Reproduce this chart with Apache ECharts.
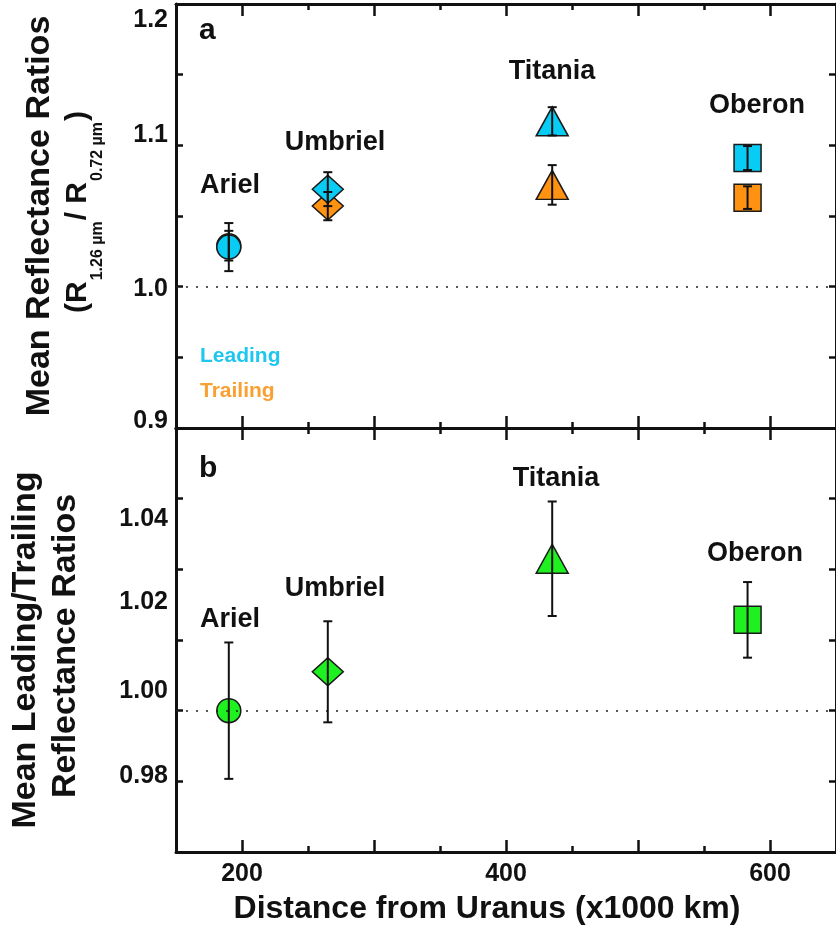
<!DOCTYPE html>
<html>
<head>
<meta charset="utf-8">
<script src="https://cdn.jsdelivr.net/npm/echarts@6/dist/echarts.min.js"></script>
<style>
html,body{margin:0;padding:0;background:#fff;}
#chart{width:836px;height:932px;}
</style>
</head>
<body>
<div id="chart"></div>
<script>
// ---------------- data ----------------
const moons = ['Ariel', 'Umbriel', 'Titania', 'Oberon'];
const distance = [190, 265, 435, 583];            // x1000 km
const leadingRatio = [1.028, 1.069, 1.117, 1.091];
const leadingErr = [0.017, 0.012, 0.010, 0.0085];
const trailingRatio = [1.029, 1.057, 1.072, 1.063];
const trailingErr = [0.0105, 0.010, 0.014, 0.008];
const ltRatio = [1.000, 1.011, 1.043, 1.0257];
const ltErr = [0.0193, 0.0143, 0.0162, 0.0107];

const xMajorTicks = [200, 300, 400, 500, 600];
const xMinorTicks = [250, 350, 450, 550];
const xTickLabels = [200, 400, 600];
const yTopTickValues = [0.9, 1.0, 1.1, 1.2];
const yTopTickLabels = ['0.9', '1.0', '1.1', '1.2'];
const yBotTickValues = [0.98, 1.00, 1.02, 1.04];
const yBotTickLabels = ['0.98', '1.00', '1.02', '1.04'];

// ---------------- styles ----------------
const FONT = "'Liberation Sans', Arial, Helvetica, sans-serif";
const INK = '#111';
const CYAN = '#08CCF4';
const ORANGE = '#FF9210';
const GREEN = '#1FF01F';
const symbols = ['circle', 'diamond', 'triangle', 'rect'];
const symbolSizes = [[24, 24], [31, 28], [32, 29], [27, 27]];
// label vertical nudges (padding) to mimic reference placement
const topLabelPad = [[0,0,14,0], [4,0,0,0], [0,0,21,0], [33,0,0,0]];
const botLabelPad = [[0,0,10,0], [0,0,40,0], [0,0,76,0], [0,0,100,0]];

function pts(vals, color) {
  return distance.map((d, i) => ({
    value: [d, vals[i]],
    symbol: symbols[i],
    symbolSize: symbolSizes[i],
    itemStyle: { color: color, opacity: 1, borderColor: '#1a1a1a', borderWidth: 1.5 }
  }));
}
function errData(vals, errs) {
  return distance.map((d, i) => [d, vals[i] - errs[i], vals[i] + errs[i]]);
}
function errRender(params, api) {
  const x = api.value(0), lo = api.value(1), hi = api.value(2);
  const a = api.coord([x, hi]), b = api.coord([x, lo]);
  const cw = 4.5;
  const st = { stroke: INK, lineWidth: 2 };
  return {
    type: 'group',
    children: [
      { type: 'line', shape: { x1: a[0], y1: a[1], x2: b[0], y2: b[1] }, style: st },
      { type: 'line', shape: { x1: a[0] - cw, y1: a[1], x2: a[0] + cw, y2: a[1] }, style: st },
      { type: 'line', shape: { x1: b[0] - cw, y1: b[1], x2: b[0] + cw, y2: b[1] }, style: st }
    ]
  };
}
const dotted = {
  silent: true, symbol: 'none', label: { show: false },
  lineStyle: { type: [2, 8], color: '#222', width: 1.5 },
  emphasis: { disabled: true },
  data: [{ yAxis: 1.0 }]
};

function xAxisSet(gridIndex, withLabels) {
  const base = { type: 'value', gridIndex: gridIndex, min: 150, max: 650, splitLine: { show: false } };
  const line = { show: true, lineStyle: { color: INK, width: 3 } };
  return [
    Object.assign({}, base, {
      position: 'bottom', axisLine: line,
      axisTick: { show: true, inside: true, length: 12, lineStyle: { color: INK, width: 2.5 }, customValues: xMajorTicks },
      axisLabel: withLabels ? {
        show: true, customValues: xTickLabels, margin: 10,
        fontFamily: FONT, fontSize: 25, fontWeight: 'bold', color: INK
      } : { show: false }
    }),
    Object.assign({}, base, {
      position: 'bottom', axisLine: { show: false },
      axisTick: { show: true, inside: true, length: 6, lineStyle: { color: INK, width: 2.5 }, customValues: xMinorTicks },
      axisLabel: { show: false }
    }),
    Object.assign({}, base, {
      position: 'top', axisLine: line,
      axisTick: { show: true, inside: true, length: 12, lineStyle: { color: INK, width: 2.5 }, customValues: xMajorTicks },
      axisLabel: { show: false }
    }),
    Object.assign({}, base, {
      position: 'top', axisLine: { show: false },
      axisTick: { show: true, inside: true, length: 6, lineStyle: { color: INK, width: 2.5 }, customValues: xMinorTicks },
      axisLabel: { show: false }
    })
  ];
}

function yAxisPair(gridIndex, min, max, interval, tickVals, tickLabels, pads) {
  const rich = {};
  pads.forEach((p, i) => {
    rich['o' + i] = { padding: p, fontFamily: FONT, fontSize: 25, fontWeight: 'bold', color: INK };
  });
  const base = { type: 'value', gridIndex: gridIndex, min: min, max: max, interval: interval, splitLine: { show: false } };
  return [
    Object.assign({}, base, {
      position: 'left',
      axisLine: { show: true, lineStyle: { color: INK, width: 3 } },
      axisTick: { show: true, inside: true, length: 7, lineStyle: { color: INK, width: 2.5 } },
      axisLabel: {
        show: true, customValues: tickVals, margin: 8,
        formatter: function (v) {
          let idx = -1;
          tickVals.forEach((t, i) => { if (Math.abs(t - v) < 1e-6) idx = i; });
          if (idx < 0) return '';
          return '{o' + idx + '|' + tickLabels[idx] + '}';
        },
        rich: rich
      }
    }),
    Object.assign({}, base, {
      position: 'right',
      axisLine: { show: true, lineStyle: { color: INK, width: 3 } },
      axisTick: { show: true, inside: true, length: 7, lineStyle: { color: INK, width: 2.5 } },
      axisLabel: { show: false }
    })
  ];
}

function txt(x, y, text, size, color, align) {
  return {
    type: 'text', x: x, y: y, silent: true,
    style: { text: text, fontFamily: FONT, fontSize: size, fontWeight: 'bold', fill: color || INK,
             align: align || 'center', verticalAlign: 'middle' }
  };
}
function vtxt(x, y, text, size) {
  return {
    type: 'text', x: x, y: y, rotation: Math.PI / 2, silent: true,
    style: { text: text, fontFamily: FONT, fontSize: size, fontWeight: 'bold', fill: INK,
             align: 'center', verticalAlign: 'middle' }
  };
}

const topLabelPos = [[230, 186], [335, 143], [552, 72], [757, 106]];
const botLabelPos = [[230, 620], [335, 589], [556, 479], [755, 554]];

const graphics = [
  txt(199, 31, 'a', 30, INK, 'left'),
  txt(199, 469, 'b', 30, INK, 'left'),
  txt(200, 356, 'Leading', 21, '#1EC6F0', 'left'),
  txt(200, 391, 'Trailing', 21, '#F9A032', 'left'),
  vtxt(40, 216, 'Mean Reflectance Ratios', 34),
  {
    type: 'text', x: 84, y: 212, rotation: Math.PI / 2, silent: true,
    style: {
      text: '{m|(R}{s|1.26 µm}{m|/ R}{s|0.72 µm}{m|)}',
      align: 'center', verticalAlign: 'middle', fill: INK,
      rich: {
        m: { fontFamily: FONT, fontSize: 30, fontWeight: 'bold', fill: INK, lineHeight: 30, verticalAlign: 'top' },
        s: { fontFamily: FONT, fontSize: 16, fontWeight: 'bold', fill: INK, padding: [27, 1, 0, 1], verticalAlign: 'top' }
      }
    }
  },
  vtxt(26, 650, 'Mean Leading/Trailing', 34),
  vtxt(66, 646, 'Reflectance Ratios', 34),
  txt(487, 909, 'Distance from Uranus (x1000 km)', 32)
];
moons.forEach((m, i) => {
  graphics.push(txt(topLabelPos[i][0], topLabelPos[i][1], m, 27));
  graphics.push(txt(botLabelPos[i][0], botLabelPos[i][1], m, 27));
});

const chart = echarts.init(document.getElementById('chart'), null, { renderer: 'canvas' });
chart.setOption({
  animation: false,
  backgroundColor: '#fff',
  grid: [
    { left: 176, top: 4, width: 666, height: 424 },
    { left: 176, top: 428, width: 666, height: 424 }
  ],
  xAxis: xAxisSet(0, false).concat(xAxisSet(1, true)),
  yAxis: yAxisPair(0, 0.9, 1.2, 0.05, yTopTickValues, yTopTickLabels, topLabelPad)
    .concat(yAxisPair(1, 0.96, 1.08, 0.02, yBotTickValues, yBotTickLabels, botLabelPad)),
  series: [
    { name: 'Trailing', type: 'scatter', xAxisIndex: 0, yAxisIndex: 0, z: 2,
      data: pts(trailingRatio, ORANGE), markLine: dotted, emphasis: { disabled: true } },
    { name: 'Leading', type: 'scatter', xAxisIndex: 0, yAxisIndex: 0, z: 3,
      data: pts(leadingRatio, CYAN), emphasis: { disabled: true } },
    { name: 'Trailing err', type: 'custom', xAxisIndex: 0, yAxisIndex: 0, z: 5,
      renderItem: errRender, encode: { x: 0, y: [1, 2] }, data: errData(trailingRatio, trailingErr) },
    { name: 'Leading err', type: 'custom', xAxisIndex: 0, yAxisIndex: 0, z: 5,
      renderItem: errRender, encode: { x: 0, y: [1, 2] }, data: errData(leadingRatio, leadingErr) },
    { name: 'Leading/Trailing', type: 'scatter', xAxisIndex: 4, yAxisIndex: 2, z: 3,
      data: pts(ltRatio, GREEN), markLine: dotted, emphasis: { disabled: true } },
    { name: 'L/T err', type: 'custom', xAxisIndex: 4, yAxisIndex: 2, z: 5,
      renderItem: errRender, encode: { x: 0, y: [1, 2] }, data: errData(ltRatio, ltErr) }
  ],
  graphic: graphics
});
</script>
</body>
</html>
